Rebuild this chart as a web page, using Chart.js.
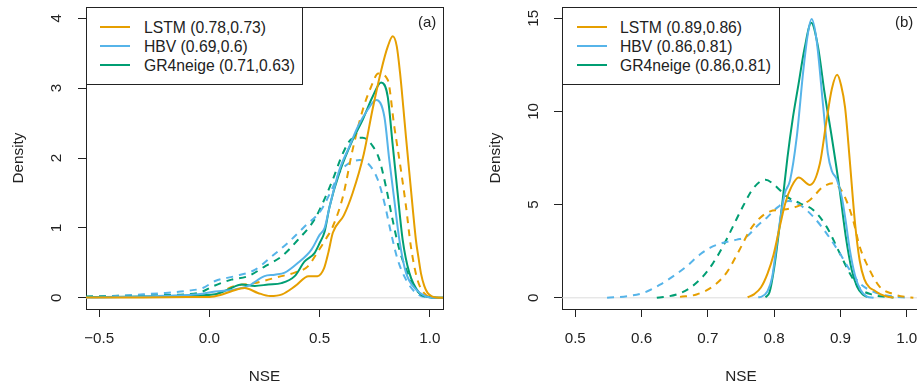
<!DOCTYPE html>
<html>
<head>
<meta charset="utf-8">
<script src="https://cdn.jsdelivr.net/npm/chart.js@4.4.1/dist/chart.umd.min.js"></script>
<style>
  html, body { margin: 0; padding: 0; background: #fff; }
  body { width: 917px; height: 390px; overflow: hidden; position: relative;
         font-family: "Liberation Sans", Arial, Helvetica, sans-serif; color: #222; }
  .panel { position: absolute; top: 0; height: 390px; }
  #panelA { left: 0; width: 458px; }
  #panelB { left: 460px; width: 470px; }
  .legend { position: absolute; top: 7px; height: 78px; box-sizing: border-box;
            border: 1px solid #222; background: #fff; z-index: 6; }
  .legend .row { position: absolute; left: 0; width: 100%; height: 19px; }
  .legend .swatch { position: absolute; top: 8.5px; width: 30px; height: 2px; }
  .legend .txt { position: absolute; top: 0; line-height: 19px; font-size: 15.7px; white-space: nowrap; }
  .tag { position: absolute; top: 12px; font-size: 15px; line-height: 19px; z-index: 6; }
</style>
</head>
<body>
<div class="panel" id="panelA"><canvas id="chartA"></canvas></div>
<div class="panel" id="panelB"><canvas id="chartB"></canvas></div>
<div class="legend" id="legendA" style="left:86px;width:217px"></div>
<div class="legend" id="legendB" style="left:562px;width:218px"></div>
<div class="tag" style="left:418px">(a)</div>
<div class="tag" style="left:895px">(b)</div>
<script>
const colors = ['#E69F00', '#56B4E9', '#009E73'];
const models = ['LSTM', 'HBV', 'GR4neige'];
const legendA = ['LSTM (0.78,0.73)', 'HBV (0.69,0.6)', 'GR4neige (0.71,0.63)'];
const legendB = ['LSTM (0.89,0.86)', 'HBV (0.86,0.81)', 'GR4neige (0.86,0.81)'];

const xTicksA = [-0.5, 0, 0.5, 1.0];
const xTickLabelsA = ['\u22120.5', '0.0', '0.5', '1.0'];
const yTicksA = [0, 1, 2, 3, 4];
const xTicksB = [0.5, 0.6, 0.7, 0.8, 0.9, 1.0];
const xTickLabelsB = ['0.5', '0.6', '0.7', '0.8', '0.9', '1.0'];
const yTicksB = [0, 5, 10, 15];

// panel (a): [NSE, density]
const lstmA = [[-0.56,0.005],[-0.3,0.005],[-0.1,0.01],[0.0,0.012],[0.05,0.04],[0.10,0.095],[0.16,0.14],[0.22,0.07],[0.275,0.025],[0.33,0.05],[0.39,0.17],[0.45,0.31],[0.49,0.31],[0.52,0.42],[0.54,0.65],[0.56,0.93],[0.61,1.18],[0.65,1.5],[0.70,2.05],[0.74,2.69],[0.78,3.26],[0.81,3.6],[0.832,3.74],[0.85,3.6],[0.865,3.22],[0.88,2.72],[0.892,2.3],[0.907,1.8],[0.922,1.3],[0.937,0.83],[0.95,0.55],[0.96,0.35],[0.975,0.17],[0.99,0.07],[1.01,0.02],[1.03,0.003],[1.06,0]];
const lstmA_dash = [[-0.56,0.01],[-0.3,0.01],[-0.1,0.015],[0.0,0.02],[0.05,0.08],[0.116,0.17],[0.206,0.21],[0.267,0.26],[0.327,0.31],[0.387,0.36],[0.447,0.45],[0.49,0.65],[0.53,0.85],[0.56,1.02],[0.606,1.45],[0.65,2.12],[0.696,2.69],[0.734,3.02],[0.766,3.21],[0.809,3.12],[0.839,2.45],[0.869,1.83],[0.892,1.31],[0.914,0.74],[0.944,0.26],[0.98,0.05],[1.02,0.005],[1.06,0]];
const hbvA = [[-0.56,0.005],[-0.4,0.01],[-0.2,0.03],[-0.05,0.05],[0.026,0.09],[0.116,0.12],[0.176,0.17],[0.25,0.31],[0.297,0.33],[0.342,0.36],[0.402,0.5],[0.463,0.69],[0.5,0.9],[0.523,1.0],[0.545,1.3],[0.59,1.83],[0.636,2.17],[0.674,2.45],[0.718,2.69],[0.757,2.83],[0.794,2.59],[0.816,1.98],[0.839,1.4],[0.862,0.83],[0.892,0.36],[0.937,0.12],[0.982,0.02],[1.02,0.002],[1.06,0]];
const hbvA_dash = [[-0.56,0.01],[-0.4,0.03],[-0.3,0.05],[-0.2,0.07],[-0.1,0.1],[-0.03,0.14],[0.026,0.24],[0.116,0.31],[0.206,0.4],[0.282,0.59],[0.357,0.79],[0.432,1.02],[0.508,1.26],[0.561,1.59],[0.59,1.79],[0.636,1.93],[0.681,1.97],[0.726,1.9],[0.764,1.69],[0.794,1.36],[0.824,0.93],[0.854,0.55],[0.892,0.26],[0.937,0.07],[0.98,0.01],[1.06,0]];
const gr4A = [[-0.56,0.01],[-0.3,0.02],[-0.1,0.03],[0.026,0.05],[0.086,0.12],[0.146,0.19],[0.206,0.17],[0.267,0.19],[0.327,0.21],[0.387,0.31],[0.432,0.52],[0.477,0.64],[0.50,0.78],[0.523,0.95],[0.545,1.3],[0.59,1.79],[0.65,2.26],[0.696,2.55],[0.741,2.88],[0.779,3.08],[0.809,2.88],[0.831,2.21],[0.854,1.5],[0.877,0.83],[0.907,0.36],[0.952,0.07],[0.997,0.01],[1.06,0]];
const gr4A_dash = [[-0.56,0.02],[-0.4,0.03],[-0.2,0.04],[-0.05,0.07],[0.02,0.17],[0.10,0.26],[0.176,0.31],[0.252,0.45],[0.327,0.59],[0.402,0.83],[0.477,1.12],[0.515,1.36],[0.561,1.7],[0.606,2.07],[0.65,2.28],[0.696,2.29],[0.741,2.17],[0.771,1.98],[0.801,1.59],[0.831,1.12],[0.862,0.69],[0.899,0.36],[0.937,0.12],[0.98,0.02],[1.06,0]];

// panel (b)
const lstmB = [[0.76,0.03],[0.77,0.2],[0.78,0.55],[0.79,1.3],[0.799,2.3],[0.809,3.9],[0.817,5.1],[0.826,5.95],[0.837,6.45],[0.854,6.05],[0.869,7.2],[0.879,9.5],[0.887,11.2],[0.895,11.96],[0.901,11.4],[0.907,10.2],[0.914,7.4],[0.922,4.0],[0.929,2.0],[0.936,1.0],[0.944,0.55],[0.95,0.42],[0.96,0.2],[0.97,0.07],[0.98,0.01]];
const lstmB_dash = [[0.658,0.05],[0.683,0.18],[0.708,0.62],[0.728,1.34],[0.748,2.59],[0.764,3.66],[0.779,4.3],[0.794,4.64],[0.809,4.71],[0.834,4.89],[0.854,5.25],[0.874,5.96],[0.889,6.14],[0.904,5.6],[0.919,4.18],[0.929,2.75],[0.944,1.5],[0.959,0.6],[0.979,0.21],[0.9995,0.04],[1.01,0.01]];
const hbvB = [[0.776,0.03],[0.78,0.05],[0.79,0.35],[0.797,1.1],[0.804,2.9],[0.81,4.4],[0.816,5.6],[0.824,6.3],[0.834,8.6],[0.844,12.2],[0.851,14.2],[0.8564,14.95],[0.864,13.82],[0.874,10.25],[0.881,7.75],[0.887,6.8],[0.894,6.4],[0.902,5.4],[0.908,4.1],[0.914,2.6],[0.922,1.2],[0.93,0.45],[0.94,0.07],[0.95,0]];
const hbvB_dash = [[0.548,0.0],[0.578,0.09],[0.603,0.27],[0.628,0.71],[0.648,1.16],[0.668,1.69],[0.688,2.32],[0.703,2.68],[0.723,2.95],[0.744,3.12],[0.759,3.3],[0.774,3.84],[0.789,4.3],[0.805,4.85],[0.822,5.2],[0.839,4.98],[0.859,4.35],[0.879,3.46],[0.899,2.39],[0.914,1.5],[0.929,0.78],[0.949,0.34],[0.979,0.07],[1.0,0.01]];
const gr4B = [[0.787,0.03],[0.793,0.3],[0.80,1.6],[0.807,3.5],[0.813,5.3],[0.82,7.5],[0.828,9.6],[0.836,11.3],[0.846,13.4],[0.856,14.75],[0.866,13.5],[0.876,11.0],[0.887,8.6],[0.898,6.0],[0.908,3.3],[0.917,1.5],[0.925,0.6],[0.933,0.2],[0.94,0.04]];
const gr4B_dash = [[0.623,0.0],[0.653,0.18],[0.673,0.53],[0.693,1.16],[0.708,1.87],[0.723,2.77],[0.738,3.84],[0.753,4.91],[0.769,5.9],[0.787,6.33],[0.799,6.1],[0.819,5.43],[0.839,5.07],[0.859,4.71],[0.879,3.82],[0.899,2.39],[0.914,1.32],[0.929,0.51],[0.949,0.16],[0.969,0.05],[0.98,0.02]];

const fontFamily = '"Liberation Sans", Arial, Helvetica, sans-serif';
const textColor = '#222';
const frameColor = '#222';

function toXY(pairs) {
  return pairs.map(p => ({ x: p[0], y: p[1] }));
}

function curve(pairs, color, dashed) {
  return {
    data: toXY(pairs),
    borderColor: color,
    borderWidth: 2,
    borderDash: dashed ? [7, 6] : [],
    pointRadius: 0,
    cubicInterpolationMode: 'monotone',
    order: dashed ? 2 : 1,
  };
}

function makePanel(id, p) {
  const datasets = [
    {
      data: toXY([[p.xMin, 0], [p.xMax, 0]]),
      borderColor: '#dcdcdc', borderWidth: 1, pointRadius: 0, order: 20,
    },
  ];
  p.series.forEach((s, i) => {
    datasets.push(curve(s[0], colors[i], false));
    datasets.push(curve(s[1], colors[i], true));
  });

  const tickGrid = {
    drawOnChartArea: false, drawTicks: true, tickLength: 8,
    color: frameColor, tickColor: frameColor, tickWidth: 1,
  };
  const frameBorder = { display: true, color: frameColor, width: 1 };
  // top and right axes only carry the frame lines (R's box())
  const bareGrid = { drawOnChartArea: false, drawTicks: false };

  new Chart(document.getElementById(id), {
    type: 'line',
    data: { datasets },
    options: {
      animation: false,
      responsive: true,
      maintainAspectRatio: false,
      layout: { padding: { left: 0, top: 7, right: p.padRight, bottom: 0 } },
      plugins: { legend: { display: false }, tooltip: { enabled: false } },
      scales: {
        x: {
          type: 'linear',
          min: p.xMin, max: p.xMax,
          afterBuildTicks: s => { s.ticks = p.xTicks.map(v => ({ value: v })); },
          afterFit: s => { s.height = 81; s.paddingLeft = 0; s.paddingRight = 0; },
          ticks: {
            callback: (v, i) => p.xLabels[i],
            font: { family: fontFamily, size: 15.2 },
            color: textColor, padding: 13, maxRotation: 0, autoSkip: false,
          },
          grid: tickGrid,
          border: frameBorder,
          title: {
            display: true, text: 'NSE', color: textColor,
            font: { family: fontFamily, size: 15.3 },
            padding: { top: 0, bottom: 4 },
          },
        },
        xTop: {
          type: 'linear', position: 'top',
          min: p.xMin, max: p.xMax,
          afterFit: s => { s.height = 0; s.paddingLeft = 0; s.paddingRight = 0; },
          ticks: { display: false },
          grid: bareGrid,
          border: frameBorder,
        },
        y: {
          type: 'linear',
          min: p.yMin, max: p.yMax,
          afterBuildTicks: s => { s.ticks = p.yTicks.map(v => ({ value: v })); },
          afterFit: s => { s.width = p.yWidth; s.paddingTop = 0; s.paddingBottom = 0; },
          ticks: {
            callback: v => String(v),
            minRotation: 90, maxRotation: 90, crossAlign: 'center',
            font: { family: fontFamily, size: 15.2 },
            color: textColor, padding: p.yTickPad, autoSkip: false,
          },
          grid: tickGrid,
          border: frameBorder,
          title: {
            display: true, text: 'Density', color: textColor,
            font: { family: fontFamily, size: 15.3 },
            padding: { top: p.yTitlePad, bottom: 0 },
          },
        },
        yRight: {
          type: 'linear', position: 'right',
          min: p.yMin, max: p.yMax,
          afterFit: s => { s.width = 0; s.paddingTop = 0; s.paddingBottom = 0; },
          ticks: { display: false },
          grid: bareGrid,
          border: frameBorder,
        },
      },
    },
  });
}

function makeLegend(id, texts, swatchLeft) {
  const box = document.getElementById(id);
  texts.forEach((t, i) => {
    const row = document.createElement('div');
    row.className = 'row';
    row.style.top = (9.5 + i * 19.2) + 'px';
    row.innerHTML = '<div class="swatch" style="left:' + swatchLeft + 'px;background:' + colors[i] + '"></div>' +
                    '<div class="txt" style="left:57px">' + t + '</div>';
    box.appendChild(row);
  });
}

makePanel('chartA', {
  xMin: -0.56, xMax: 1.06, yMin: -0.16, yMax: 4.16,
  xTicks: xTicksA, xLabels: xTickLabelsA, yTicks: yTicksA,
  yWidth: 86, yTickPad: 17, yTitlePad: 10, padRight: 15,
  series: [[lstmA, lstmA_dash], [hbvA, hbvA_dash], [gr4A, gr4A_dash]],
});

makePanel('chartB', {
  xMin: 0.48, xMax: 1.02, yMin: -0.6, yMax: 15.6,
  xTicks: xTicksB, xLabels: xTickLabelsB, yTicks: yTicksB,
  yWidth: 102, yTickPad: 11.5, yTitlePad: 27, padRight: 10,
  series: [[lstmB, lstmB_dash], [hbvB, hbvB_dash], [gr4B, gr4B_dash]],
});

makeLegend('legendA', legendA, 13);
makeLegend('legendB', legendB, 14);
</script>
</body>
</html>
